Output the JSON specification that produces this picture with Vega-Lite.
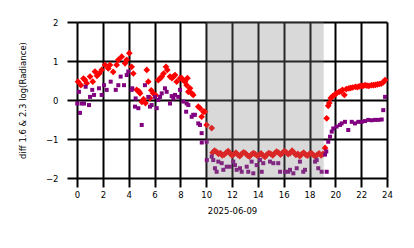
{
  "$schema": "https://vega.github.io/schema/vega-lite/v6.json",
  "width": 310,
  "height": 156,
  "autosize": "none",
  "padding": {"left": 77, "top": 22, "right": 27, "bottom": 70},
  "config": {
    "view": {"stroke": null},
    "font": "DejaVu Sans",
    "axis": {"labelFont": "DejaVu Sans", "titleFont": "DejaVu Sans", "labelFontSize": 8.5, "titleFontSize": 8.5, "titleFontWeight": "normal", "labelColor": "black", "titleColor": "black", "grid": true, "gridColor": "black", "gridWidth": 2, "gridOpacity": 1, "tickColor": "black", "tickWidth": 2, "domain": false, "labelOverlap": false, "labelBound": false}
  },
  "datasets": {
    "red": [
      {"h":0.08,"v":0.47},{"h":0.3,"v":0.38},{"h":0.5,"v":0.55},{"h":0.62,"v":0.51},{"h":0.75,"v":0.43},{"h":1.01,"v":0.6},{"h":1.22,"v":0.47},{"h":1.39,"v":0.73},{"h":1.55,"v":0.62},{"h":1.73,"v":0.68},{"h":1.91,"v":0.77},{"h":2.17,"v":0.9},{"h":2.42,"v":0.81},{"h":2.55,"v":0.9},{"h":2.8,"v":0.72},{"h":3.07,"v":0.9},{"h":3.2,"v":1.03},{"h":3.46,"v":1.11},{"h":3.72,"v":0.94},{"h":3.85,"v":1.03},{"h":4.05,"v":1.2},{"h":4.23,"v":0.85},{"h":4.36,"v":0.68},{"h":4.62,"v":0.26},{"h":4.8,"v":0.22},{"h":4.88,"v":0.17},{"h":5.02,"v":-0.05},{"h":5.15,"v":0.02},{"h":5.3,"v":-0.08},{"h":5.4,"v":0.77},{"h":5.52,"v":0.47},{"h":5.65,"v":0.05},{"h":5.75,"v":0.25},{"h":5.9,"v":0.17},{"h":6.1,"v":0.12},{"h":6.29,"v":0.51},{"h":6.45,"v":0.56},{"h":6.56,"v":0.6},{"h":6.7,"v":0.68},{"h":6.89,"v":0.85},{"h":6.99,"v":0.77},{"h":7.2,"v":0.6},{"h":7.35,"v":0.56},{"h":7.46,"v":0.6},{"h":7.59,"v":0.64},{"h":7.72,"v":0.47},{"h":7.98,"v":0.56},{"h":8.11,"v":0.56},{"h":8.23,"v":0.51},{"h":8.36,"v":0.47},{"h":8.49,"v":0.38},{"h":8.55,"v":0.56},{"h":8.62,"v":0.21},{"h":8.75,"v":0.3},{"h":8.88,"v":0.17},{"h":9.0,"v":0.13},{"h":9.39,"v":-0.17},{"h":9.52,"v":-0.21},{"h":9.65,"v":-0.43},{"h":9.78,"v":-0.3},{"h":9.91,"v":-0.3},{"h":10.04,"v":-0.64},{"h":10.43,"v":-0.72},
      {"h":10.5,"v":-1.35},{"h":10.65,"v":-1.3},{"h":10.8,"v":-1.33},{"h":10.95,"v":-1.38},{"h":11.1,"v":-1.36},{"h":11.25,"v":-1.42},{"h":11.4,"v":-1.4},{"h":11.55,"v":-1.35},{"h":11.7,"v":-1.31},{"h":11.85,"v":-1.37},{"h":12.0,"v":-1.42},{"h":12.15,"v":-1.39},{"h":12.3,"v":-1.35},{"h":12.45,"v":-1.4},{"h":12.6,"v":-1.44},{"h":12.75,"v":-1.38},{"h":12.9,"v":-1.34},{"h":13.05,"v":-1.37},{"h":13.2,"v":-1.42},{"h":13.35,"v":-1.45},{"h":13.5,"v":-1.4},{"h":13.65,"v":-1.36},{"h":13.8,"v":-1.39},{"h":13.95,"v":-1.43},{"h":14.1,"v":-1.41},{"h":14.25,"v":-1.37},{"h":14.4,"v":-1.42},{"h":14.55,"v":-1.46},{"h":14.7,"v":-1.4},{"h":14.85,"v":-1.36},{"h":15.0,"v":-1.38},{"h":15.15,"v":-1.42},{"h":15.3,"v":-1.37},{"h":15.45,"v":-1.32},{"h":15.6,"v":-1.35},{"h":15.75,"v":-1.4},{"h":15.9,"v":-1.36},{"h":16.05,"v":-1.31},{"h":16.2,"v":-1.34},{"h":16.35,"v":-1.39},{"h":16.5,"v":-1.36},{"h":16.65,"v":-1.3},{"h":16.8,"v":-1.35},{"h":16.95,"v":-1.41},{"h":17.1,"v":-1.38},{"h":17.25,"v":-1.44},{"h":17.4,"v":-1.39},{"h":17.55,"v":-1.35},{"h":17.7,"v":-1.4},{"h":17.85,"v":-1.43},{"h":18.0,"v":-1.38},{"h":18.15,"v":-1.36},{"h":18.3,"v":-1.41},{"h":18.45,"v":-1.45},{"h":18.6,"v":-1.4},{"h":18.75,"v":-1.37},{"h":18.9,"v":-1.42},{"h":19.05,"v":-1.38},{"h":19.2,"v":-1.23},
      {"h":19.33,"v":-0.47},{"h":19.45,"v":-0.15},{"h":19.53,"v":-0.08},{"h":19.65,"v":0.05},{"h":19.8,"v":0.1},{"h":19.95,"v":0.13},{"h":20.1,"v":0.18},{"h":20.3,"v":0.21},{"h":20.45,"v":0.22},{"h":20.55,"v":0.26},{"h":20.7,"v":0.13},{"h":20.85,"v":0.28},{"h":21.05,"v":0.3},{"h":21.2,"v":0.31},{"h":21.35,"v":0.32},{"h":21.55,"v":0.34},{"h":21.7,"v":0.33},{"h":21.85,"v":0.35},{"h":22.0,"v":0.36},{"h":22.15,"v":0.36},{"h":22.3,"v":0.38},{"h":22.45,"v":0.37},{"h":22.6,"v":0.36},{"h":22.8,"v":0.38},{"h":22.95,"v":0.38},{"h":23.1,"v":0.39},{"h":23.25,"v":0.4},{"h":23.4,"v":0.41},{"h":23.55,"v":0.42},{"h":23.7,"v":0.45},{"h":23.85,"v":0.51}
    ],
    "purple": [
      {"h":0.02,"v":-0.09},{"h":0.15,"v":0.21},{"h":0.23,"v":-0.33},{"h":0.36,"v":-0.09},{"h":0.54,"v":-0.09},{"h":0.67,"v":0.34},{"h":0.93,"v":-0.13},{"h":1.01,"v":0.08},{"h":1.18,"v":0.26},{"h":1.32,"v":0.13},{"h":1.7,"v":0.3},{"h":1.91,"v":0.13},{"h":2.09,"v":0.38},{"h":2.3,"v":0.26},{"h":2.61,"v":0.47},{"h":3.0,"v":0.26},{"h":3.2,"v":0.38},{"h":3.38,"v":0.6},{"h":3.64,"v":0.38},{"h":3.85,"v":0.64},{"h":3.97,"v":0.73},{"h":4.23,"v":0.26},{"h":4.28,"v":0.3},{"h":4.49,"v":-0.17},{"h":4.54,"v":0.04},{"h":4.75,"v":-0.21},{"h":5.01,"v":-0.64},{"h":5.26,"v":0.38},{"h":5.52,"v":0.08},{"h":5.65,"v":-0.17},{"h":5.78,"v":-0.13},{"h":6.04,"v":0.08},{"h":6.17,"v":-0.21},{"h":6.29,"v":0.0},{"h":6.43,"v":0.08},{"h":6.56,"v":0.17},{"h":6.81,"v":0.3},{"h":6.94,"v":0.21},{"h":7.2,"v":-0.09},{"h":7.33,"v":0.1},{"h":7.46,"v":0.04},{"h":7.59,"v":0.13},{"h":7.84,"v":0.08},{"h":7.97,"v":0.26},{"h":8.23,"v":-0.04},{"h":8.45,"v":-0.3},{"h":8.49,"v":-0.09},{"h":8.62,"v":-0.13},{"h":8.88,"v":-0.43},{"h":9.0,"v":-0.38},{"h":9.13,"v":-0.38},{"h":9.39,"v":-0.6},{"h":9.52,"v":-0.64},{"h":9.65,"v":-0.85},{"h":9.66,"v":-1.09},{"h":10.04,"v":-1.07},{"h":10.05,"v":-1.54},
      {"h":10.43,"v":-1.45},{"h":10.55,"v":-1.54},{"h":10.68,"v":-1.75},{"h":10.81,"v":-1.84},{"h":10.94,"v":-1.58},{"h":11.2,"v":-1.62},{"h":11.33,"v":-1.79},{"h":11.59,"v":-1.71},{"h":11.84,"v":-1.71},{"h":12.1,"v":-1.58},{"h":12.23,"v":-1.67},{"h":12.36,"v":-1.79},{"h":12.62,"v":-1.75},{"h":12.75,"v":-1.84},{"h":13.14,"v":-1.71},{"h":13.26,"v":-1.84},{"h":13.52,"v":-1.58},{"h":13.65,"v":-1.88},{"h":13.91,"v":-1.67},{"h":14.17,"v":-1.54},{"h":14.3,"v":-1.84},{"h":14.42,"v":-1.62},{"h":14.94,"v":-1.58},{"h":15.2,"v":-1.62},{"h":15.58,"v":-1.62},{"h":15.72,"v":-1.84},{"h":16.1,"v":-1.84},{"h":16.36,"v":-1.84},{"h":16.49,"v":-1.79},{"h":16.75,"v":-1.88},{"h":17.01,"v":-1.75},{"h":17.26,"v":-1.58},{"h":17.52,"v":-1.84},{"h":17.65,"v":-1.79},{"h":18.43,"v":-1.58},{"h":18.56,"v":-1.54},{"h":18.68,"v":-1.75},{"h":18.94,"v":-1.84},{"h":19.2,"v":-1.4},{"h":19.33,"v":-1.84},
      {"h":19.3,"v":-1.32},{"h":19.45,"v":-1.07},{"h":19.59,"v":-0.94},{"h":19.72,"v":-0.81},{"h":19.84,"v":-0.73},{"h":20.1,"v":-0.68},{"h":20.36,"v":-0.64},{"h":20.49,"v":-0.6},{"h":20.75,"v":-0.56},{"h":21.0,"v":-0.77},{"h":21.27,"v":-0.56},{"h":21.52,"v":-0.6},{"h":21.78,"v":-0.56},{"h":22.04,"v":-0.56},{"h":22.3,"v":-0.54},{"h":22.55,"v":-0.51},{"h":22.81,"v":-0.52},{"h":23.07,"v":-0.51},{"h":23.33,"v":-0.51},{"h":23.59,"v":-0.5},{"h":23.71,"v":-0.26},{"h":23.85,"v":0.08}
    ],
    "shade": [{"start": 10.0, "end": 19.1}]
  },
  "layer": [
    {
      "data": {"name": "red"},
      "mark": {"type": "point", "shape": "diamond", "filled": true, "color": "#ff0000", "size": 45, "opacity": 1},
      "encoding": {
        "x": {"field": "h", "type": "quantitative", "scale": {"domain": [0, 24], "nice": false}, "axis": {"values": [0,2,4,6,8,10,12,14,16,18,20,22,24], "tickCount": 50, "format": "d", "title": "2025-06-09", "tickSize": 9, "labelPadding": 3, "titlePadding": 8, "labelFlush": false}},
        "y": {"field": "v", "type": "quantitative", "scale": {"domain": [-2, 2], "nice": false}, "axis": {"values": [-2,-1,0,1,2], "tickCount": 50, "format": "d", "title": "diff 1.6 & 2.3  log(Radiance)", "tickSize": 10, "labelPadding": 9, "titlePadding": 18}}
      }
    },
    {
      "data": {"name": "purple"},
      "mark": {"type": "point", "shape": "square", "filled": true, "color": "#800080", "size": 16, "opacity": 1},
      "encoding": {
        "x": {"field": "h", "type": "quantitative"},
        "y": {"field": "v", "type": "quantitative"}
      }
    },
    {
      "data": {"name": "shade"},
      "mark": {"type": "rect", "color": "gray", "opacity": 0.3},
      "encoding": {
        "x": {"field": "start", "type": "quantitative"},
        "x2": {"field": "end"}
      }
    }
  ]
}
